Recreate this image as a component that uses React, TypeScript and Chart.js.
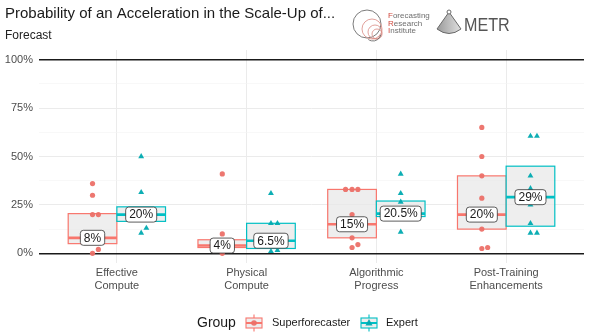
import React, { useEffect, useRef } from 'react';
import { Chart, registerables } from 'chart.js';

Chart.register(...registerables);

const titleText = 'Probability of an Acceleration in the Scale-Up of...';
const subtitleText = 'Forecast';
const categoryLines = [
  ['Effective', 'Compute'],
  ['Physical', 'Compute'],
  ['Algorithmic', 'Progress'],
  ['Post-Training', 'Enhancements'],
];
const yTickValues = [0, 12.5, 25, 37.5, 50, 62.5, 75, 87.5, 100];
const groupNames = ['Superforecaster', 'Expert'];

const superQ1 = [5, 3, 8, 12.5];
const superMedian = [8, 4, 15, 20];
const superQ3 = [20.5, 7, 33, 40];
const superLabels = ['8%', '4%', '15%', '20%'];

const expertQ1 = [16.5, 2.5, 19, 14];
const expertMedian = [20, 6.5, 20.5, 29];
const expertQ3 = [24, 15.5, 27, 45];
const expertLabels = ['20%', '6.5%', '20.5%', '29%'];

const superPoints = [
  [36, 30, 20, 20, 0, 2],
  [41, 10, 0],
  [33, 33, 33, 20, 8, 3, 4.5],
  [65, 50, 40, 28.5, 12.5, 2.5, 3],
];
const superJitter = [
  [0, 0, 0, 0.045, 0, 0.045],
  [0, 0, 0],
  [-0.05, 0, 0.045, 0, 0, 0, 0.045],
  [0, 0, 0, 0, 0, 0, 0.045],
];
const expertPoints = [
  [50, 31.5, 13, 10.5],
  [31, 15.5, 15.5, 1, 1.5],
  [41, 31, 26.5, 11],
  [60.5, 60.5, 40, 33.5, 25, 15.5, 10.5, 10.5],
];
const expertJitter = [
  [0, 0, 0.04, 0],
  [0, 0, 0.05, 0, 0.05],
  [0, 0, 0, 0],
  [0, 0.05, 0, 0, 0, 0, 0, 0.05],
];

const SUPER_COLOR = '#F8766D';
const EXPERT_COLOR = '#00BFC4';
const SUPER_POINT = 'rgba(236,112,104,0.95)';
const EXPERT_POINT = 'rgba(0,170,176,0.95)';
const HALF = 0.1875;
const FONT = "'Liberation Sans', Arial, sans-serif";

function roundRect(ctx: CanvasRenderingContext2D, x: number, y: number, w: number, h: number, r: number) {
  ctx.beginPath();
  ctx.moveTo(x + r, y);
  ctx.lineTo(x + w - r, y);
  ctx.quadraticCurveTo(x + w, y, x + w, y + r);
  ctx.lineTo(x + w, y + h - r);
  ctx.quadraticCurveTo(x + w, y + h, x + w - r, y + h);
  ctx.lineTo(x + r, y + h);
  ctx.quadraticCurveTo(x, y + h, x, y + h - r);
  ctx.lineTo(x, y + r);
  ctx.quadraticCurveTo(x, y, x + r, y);
  ctx.closePath();
}

const boxPlugin = {
  id: 'boxes',
  beforeDatasetsDraw(chart: any) {
    const ctx = chart.ctx as CanvasRenderingContext2D;
    const xs = chart.scales.x;
    const ys = chart.scales.y;
    const groups = [
      { q1: superQ1, med: superMedian, q3: superQ3, color: SUPER_COLOR, off: -HALF },
      { q1: expertQ1, med: expertMedian, q3: expertQ3, color: EXPERT_COLOR, off: HALF },
    ];
    ctx.save();
    groups.forEach((g) => {
      for (let i = 0; i < categoryLines.length; i++) {
        const c = i + 1 + g.off;
        const x0 = xs.getPixelForValue(c - HALF);
        const x1 = xs.getPixelForValue(c + HALF);
        const yTop = ys.getPixelForValue(g.q3[i]);
        const yBot = ys.getPixelForValue(g.q1[i]);
        const yMed = ys.getPixelForValue(g.med[i]);
        ctx.fillStyle = 'rgba(232,232,232,0.75)';
        ctx.fillRect(x0, yTop, x1 - x0, yBot - yTop);
        ctx.strokeStyle = g.color;
        ctx.lineWidth = 1.2;
        ctx.strokeRect(x0, yTop, x1 - x0, yBot - yTop);
        ctx.lineWidth = 2.6;
        ctx.beginPath();
        ctx.moveTo(x0, yMed);
        ctx.lineTo(x1, yMed);
        ctx.stroke();
      }
    });
    ctx.restore();
  },
  afterDatasetsDraw(chart: any) {
    const ctx = chart.ctx as CanvasRenderingContext2D;
    const xs = chart.scales.x;
    const ys = chart.scales.y;
    const groups = [
      { med: superMedian, labels: superLabels, off: -HALF },
      { med: expertMedian, labels: expertLabels, off: HALF },
    ];
    ctx.save();
    ctx.font = `12px ${FONT}`;
    ctx.textAlign = 'center';
    ctx.textBaseline = 'middle';
    groups.forEach((g) => {
      for (let i = 0; i < categoryLines.length; i++) {
        const cx = xs.getPixelForValue(i + 1 + g.off);
        const cy = ys.getPixelForValue(g.med[i]);
        const tw = ctx.measureText(g.labels[i]).width;
        const w = tw + 7;
        const h = 15;
        roundRect(ctx, cx - w / 2, cy - h / 2, w, h, 3);
        ctx.fillStyle = '#FFFFFF';
        ctx.fill();
        ctx.strokeStyle = '#333333';
        ctx.lineWidth = 0.8;
        ctx.stroke();
        ctx.fillStyle = '#1A1A1A';
        ctx.fillText(g.labels[i], cx, cy + 0.5);
      }
    });
    ctx.restore();
  },
  afterDraw(chart: any) {
    const ctx = chart.ctx as CanvasRenderingContext2D;
    ctx.save();
    // Title & subtitle
    ctx.fillStyle = '#1A1A1A';
    ctx.textAlign = 'left';
    ctx.textBaseline = 'alphabetic';
    ctx.font = `15px ${FONT}`;
    ctx.fillText(titleText, 5, 18);
    ctx.font = `12px ${FONT}`;
    ctx.fillStyle = '#222222';
    ctx.fillText(subtitleText, 5, 39);

    // FRI logo
    ctx.lineWidth = 0.8;
    ctx.strokeStyle = '#5A5A5A';
    ctx.beginPath();
    ctx.arc(367, 24, 14, 0, Math.PI * 2);
    ctx.stroke();
    ctx.strokeStyle = '#D98A83';
    [[372, 29, 10], [375, 32, 7], [377, 34, 5]].forEach(([x, y, r]) => {
      ctx.beginPath();
      ctx.arc(x, y, r, 0, Math.PI * 2);
      ctx.stroke();
    });
    ctx.strokeStyle = '#5A5A5A';
    ctx.beginPath();
    ctx.arc(373, 33, 8, 0.2, 2.2);
    ctx.stroke();
    ctx.font = `8px ${FONT}`;
    const friLines = ['Forecasting', 'Research', 'Institute'];
    friLines.forEach((t, k) => {
      const y = 18 + k * 7.5;
      ctx.fillStyle = '#D0473C';
      ctx.fillText(t[0], 388, y);
      const fw = ctx.measureText(t[0]).width;
      ctx.fillStyle = '#6E6E6E';
      ctx.fillText(t.slice(1), 388 + fw, y);
    });

    // METR logo
    ctx.beginPath();
    ctx.moveTo(449, 12);
    ctx.lineTo(437, 29);
    ctx.quadraticCurveTo(449, 38, 461, 29);
    ctx.closePath();
    const grad = ctx.createLinearGradient(437, 0, 461, 0);
    grad.addColorStop(0, '#9A9A9A');
    grad.addColorStop(1, '#E0E0E0');
    ctx.fillStyle = grad;
    ctx.fill();
    ctx.strokeStyle = '#6A6A6A';
    ctx.lineWidth = 1;
    ctx.stroke();
    ctx.beginPath();
    ctx.arc(449, 12, 2, 0, Math.PI * 2);
    ctx.fillStyle = '#FFFFFF';
    ctx.fill();
    ctx.stroke();
    ctx.save();
    ctx.translate(464, 31);
    ctx.scale(0.85, 1);
    ctx.font = `19px ${FONT}`;
    ctx.fillStyle = '#555555';
    ctx.fillText('METR', 0, 0);
    ctx.restore();

    // Legend
    const ly = 323;
    ctx.fillStyle = '#1A1A1A';
    ctx.textBaseline = 'middle';
    ctx.font = `14px ${FONT}`;
    ctx.fillText('Group', 197, ly);
    const keys = [
      { cx: 254, color: SUPER_COLOR, pt: SUPER_POINT, tri: false, tx: 272, label: groupNames[0] },
      { cx: 369, color: EXPERT_COLOR, pt: EXPERT_POINT, tri: true, tx: 386, label: groupNames[1] },
    ];
    keys.forEach((k) => {
      ctx.fillStyle = 'rgba(232,232,232,0.75)';
      ctx.fillRect(k.cx - 8, ly - 5, 16, 10);
      ctx.strokeStyle = k.color;
      ctx.lineWidth = 1.1;
      ctx.strokeRect(k.cx - 8, ly - 5, 16, 10);
      ctx.beginPath();
      ctx.moveTo(k.cx, ly - 8.5);
      ctx.lineTo(k.cx, ly - 5);
      ctx.moveTo(k.cx, ly + 5);
      ctx.lineTo(k.cx, ly + 8.5);
      ctx.stroke();
      ctx.lineWidth = 2;
      ctx.beginPath();
      ctx.moveTo(k.cx - 8, ly);
      ctx.lineTo(k.cx + 8, ly);
      ctx.stroke();
      ctx.fillStyle = k.pt;
      ctx.beginPath();
      if (k.tri) {
        ctx.moveTo(k.cx, ly - 4);
        ctx.lineTo(k.cx + 3.6, ly + 2.4);
        ctx.lineTo(k.cx - 3.6, ly + 2.4);
        ctx.closePath();
      } else {
        ctx.arc(k.cx, ly, 2.8, 0, Math.PI * 2);
      }
      ctx.fill();
      ctx.fillStyle = '#1A1A1A';
      ctx.font = `11px ${FONT}`;
      ctx.fillText(k.label, k.tx, ly);
    });
    ctx.restore();
  },
};

export default function App() {
  const canvasRef = useRef<HTMLCanvasElement | null>(null);

  useEffect(() => {
    document.body.style.margin = '0';
    const canvas = canvasRef.current;
    if (!canvas) return;

    const superData: { x: number; y: number }[] = [];
    superPoints.forEach((vals, i) =>
      vals.forEach((v, j) => superData.push({ x: i + 1 - HALF + superJitter[i][j], y: v }))
    );
    const expertData: { x: number; y: number }[] = [];
    expertPoints.forEach((vals, i) =>
      vals.forEach((v, j) => expertData.push({ x: i + 1 + HALF + expertJitter[i][j], y: v }))
    );

    const chart = new Chart(canvas, {
      type: 'scatter',
      data: {
        datasets: [
          {
            label: groupNames[0],
            data: superData,
            pointStyle: 'circle',
            pointRadius: 2.6,
            backgroundColor: SUPER_POINT,
            borderWidth: 0,
          },
          {
            label: groupNames[1],
            data: expertData,
            pointStyle: 'triangle',
            pointRadius: 3.4,
            backgroundColor: EXPERT_POINT,
            borderWidth: 0,
          },
        ],
      },
      options: {
        responsive: false,
        animation: false,
        layout: { padding: { top: 50, bottom: 41, left: 0, right: 6 } },
        plugins: {
          legend: { display: false },
          tooltip: { enabled: false },
          title: { display: false },
        },
        scales: {
          x: {
            type: 'linear',
            min: 0.4,
            max: 4.6,
            afterBuildTicks: (scale: any) => {
              scale.ticks = categoryLines.map((_, i) => ({ value: i + 1 }));
            },
            afterFit: (scale: any) => {
              scale.height = 30;
            },
            ticks: {
              autoSkip: false,
              maxRotation: 0,
              padding: 3,
              color: '#4D4D4D',
              font: { family: FONT, size: 11, lineHeight: 1.2 },
              callback: (v: any) => categoryLines[Math.round(Number(v)) - 1] as any,
            },
            grid: { color: '#EBEBEB', lineWidth: 1, drawTicks: false },
            border: { display: false },
          },
          y: {
            type: 'linear',
            min: -5,
            max: 105,
            afterBuildTicks: (scale: any) => {
              scale.ticks = yTickValues.map((v) => ({ value: v }));
            },
            afterFit: (scale: any) => {
              scale.width = 39;
            },
            ticks: {
              autoSkip: false,
              padding: 6,
              color: '#4D4D4D',
              font: { family: FONT, size: 11 },
              callback: (v: any) => (Number(v) % 25 === 0 ? `${v}%` : ''),
            },
            grid: {
              drawTicks: false,
              color: (c: any) => {
                const v = c.tick ? c.tick.value : 0;
                if (v === 0 || v === 100) return '#1A1A1A';
                return v % 25 === 0 ? '#EBEBEB' : '#F3F3F3';
              },
              lineWidth: (c: any) => {
                const v = c.tick ? c.tick.value : 0;
                if (v === 0 || v === 100) return 1.4;
                return v % 25 === 0 ? 1 : 0.6;
              },
            },
            border: { display: false },
          },
        },
      },
      plugins: [boxPlugin],
    });

    return () => chart.destroy();
  }, []);

  return (
    <div style={{ width: 590, height: 334 }}>
      <canvas ref={canvasRef} width={590} height={334} style={{ display: 'block', width: 590, height: 334 }} />
    </div>
  );
}
